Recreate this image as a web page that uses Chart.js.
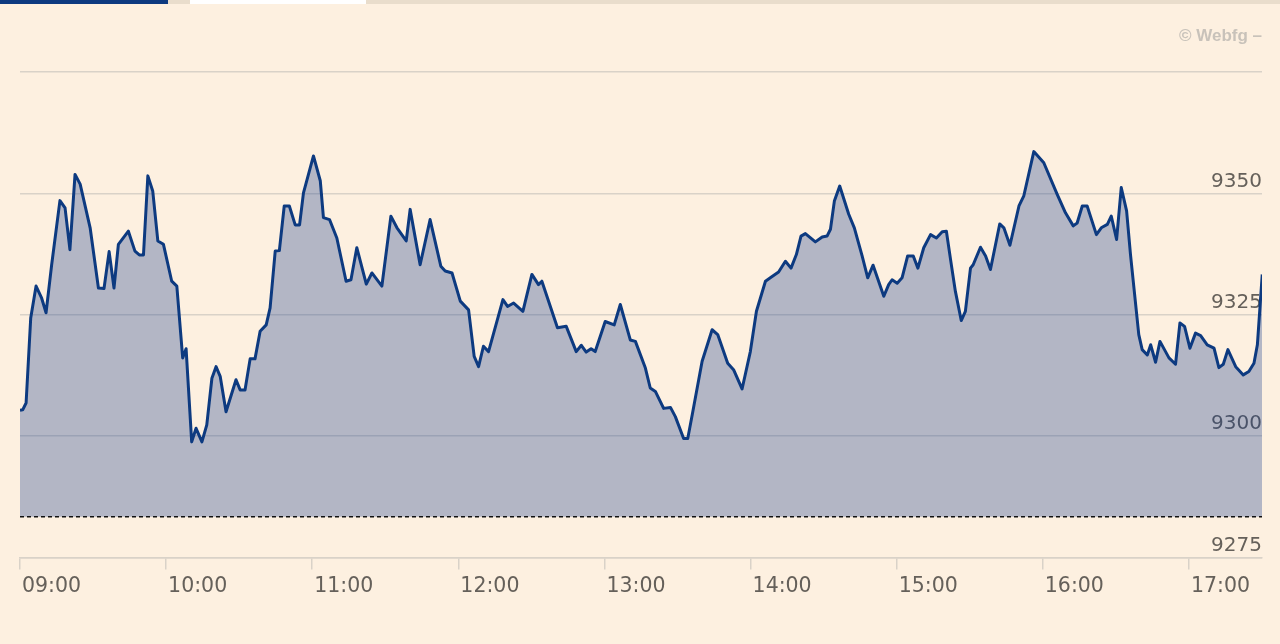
<!DOCTYPE html>
<html>
<head>
<meta charset="utf-8">
<script src="https://cdn.jsdelivr.net/npm/chart.js@4.4.1/dist/chart.umd.min.js"></script>
<style>
  html, body { margin: 0; padding: 0; background: #fdf0e0; }
  #wrap { position: relative; width: 1280px; height: 644px; overflow: hidden; }
  #topbar { position: absolute; left: 0; top: 0; width: 1280px; height: 4px; background: #e9ddcc; }
  #tab1 { position: absolute; left: 0; top: 0; width: 168px; height: 4px; background: #0d3a80; }
  #tab2 { position: absolute; left: 190px; top: 0; width: 176px; height: 4px; background: #ffffff; }
  #credit { position: absolute; right: 18px; top: 26px; font: bold 17px "Liberation Sans", Arial, sans-serif; color: #c8c2ba; }
  canvas { position: absolute; left: 0; top: 0; }
</style>
</head>
<body>
<div id="wrap">
  <div id="topbar"></div>
  <div id="tab1"></div>
  <div id="tab2"></div>
  <canvas id="chart" width="1280" height="644"></canvas>
  <div id="credit">© Webfg –</div>
</div>
<script>
// minutes after 09:00
const minutes = [
  0, 1.1, 2.5, 4.4, 6.6, 8.9, 10.7, 13.0, 16.4, 18.5, 20.5, 22.6, 24.7, 28.8, 32.2, 34.5, 36.6, 38.6, 40.4, 44.5,
  47.2, 49.0, 50.7, 52.5, 54.5, 56.6, 58.9, 62.3, 64.4, 66.8, 68.2, 70.5, 72.3, 74.7, 76.7, 78.8, 80.5, 82.2, 84.6, 88.7,
  90.4, 92.4, 94.5, 96.5, 98.6, 101.1, 102.7, 104.8, 106.5, 108.5, 110.6, 113.0, 114.8, 116.4, 120.5, 123.3, 124.6, 127.1, 130.1, 133.9,
  135.9, 138.3, 142.2, 144.5, 148.6, 152.3, 154.8, 158.6, 160.2, 164.3, 168.4, 172.8, 174.6, 177.4, 180.8, 184.2, 186.5, 188.3, 190.3, 192.4,
  198.3, 200.2, 202.7, 206.5, 210.2, 212.9, 214.3, 220.7, 224.3, 228.4, 230.5, 232.5, 234.5, 236.2, 240.3, 244.0, 246.5, 250.6, 252.7, 256.8,
  258.8, 260.9, 264.3, 267.1, 269.1, 272.5, 274.2, 276.0, 280.1, 284.2, 286.5, 290.6, 293.1, 296.5, 299.9, 302.4, 306.1, 308.1, 311.5, 314.3,
  316.6, 318.8, 320.7, 322.5, 326.6, 329.4, 331.4, 332.8, 334.4, 336.6, 340.3, 342.6, 345.8, 348.1, 350.3, 354.7, 356.7, 358.1, 360.2, 362.2,
  364.5, 366.8, 368.7, 371.1, 373.9, 376.3, 378.7, 380.4, 382.1, 384.1, 386.5, 388.2, 390.3, 391.4, 394.4, 396.5, 398.5, 402.3, 404.0, 406.5,
  410.2, 412.2, 416.3, 420.4, 425.9, 429.3, 432.5, 434.1, 436.2, 438.2, 442.0, 444.0, 446.5, 448.1, 450.3, 452.2, 454.4, 456.0, 459.4, 460.8,
  462.9, 464.3, 466.3, 468.1, 471.8, 474.5, 476.3, 478.2, 480.4, 482.7, 484.8, 487.5, 490.3, 492.3, 494.1, 496.0, 499.2, 502.3, 504.6, 506.7,
  508.1, 510.1
];
const prices = [
  9305.3, 9305.4, 9306.8, 9324.3, 9330.9, 9328.4, 9325.4, 9335.3, 9348.5, 9347.0, 9338.4, 9353.9, 9351.9, 9342.9, 9330.5, 9330.4, 9338.0, 9330.5, 9339.5, 9342.2,
  9338.1, 9337.3, 9337.3, 9353.6, 9350.5, 9340.2, 9339.5, 9331.9, 9330.9, 9316.1, 9318.0, 9298.8, 9301.6, 9298.8, 9302.3, 9311.9, 9314.3, 9312.3, 9305.0, 9311.6,
  9309.5, 9309.5, 9315.9, 9315.9, 9321.6, 9322.9, 9326.4, 9338.1, 9338.2, 9347.4, 9347.4, 9343.5, 9343.5, 9350.1, 9357.7, 9352.6, 9345.0, 9344.6, 9340.8, 9331.9,
  9332.2, 9338.8, 9331.3, 9333.6, 9330.9, 9345.3, 9342.9, 9340.2, 9346.7, 9335.3, 9344.6, 9335.0, 9334.0, 9333.6, 9327.8, 9326.0, 9316.4, 9314.3, 9318.5, 9317.4,
  9328.1, 9326.7, 9327.4, 9325.7, 9333.3, 9331.2, 9331.9, 9322.3, 9322.6, 9317.4, 9318.7, 9317.3, 9318.0, 9317.4, 9323.6, 9322.9, 9327.1, 9319.8, 9319.5, 9314.0,
  9309.9, 9309.2, 9305.7, 9305.9, 9304.0, 9299.5, 9299.5, 9304.3, 9315.4, 9321.9, 9320.9, 9315.0, 9313.6, 9309.7, 9317.4, 9325.7, 9331.9, 9332.6, 9333.8, 9336.0,
  9334.6, 9337.4, 9341.2, 9341.7, 9340.0, 9341.0, 9341.2, 9342.6, 9348.4, 9351.5, 9345.7, 9342.9, 9337.1, 9332.6, 9335.2, 9328.8, 9331.2, 9332.2, 9331.5, 9332.6,
  9337.1, 9337.1, 9334.6, 9338.8, 9341.5, 9340.8, 9342.1, 9342.2, 9336.4, 9329.8, 9323.8, 9325.7, 9334.6, 9335.3, 9338.9, 9337.1, 9334.3, 9343.7, 9342.9, 9339.3,
  9347.4, 9349.5, 9358.6, 9356.3, 9349.8, 9346.0, 9343.3, 9343.9, 9347.4, 9347.4, 9341.5, 9342.9, 9343.6, 9345.3, 9340.5, 9351.2, 9346.4, 9337.4, 9320.9, 9317.8,
  9316.7, 9318.8, 9315.2, 9319.5, 9316.1, 9314.8, 9323.3, 9322.6, 9318.1, 9321.2, 9320.7, 9318.8, 9318.1, 9314.1, 9314.8, 9317.8, 9314.3, 9312.6, 9313.3, 9315.0,
  9318.8, 9333.3
];
const prevClose = 9283.4;
const xTickLabels = ['09:00', '10:00', '11:00', '12:00', '13:00', '14:00', '15:00', '16:00', '17:00'];
const yTickValues = [9275, 9300, 9325, 9350];

const gridColor = '#d9d2c8';
const textColor = '#65605a';

const lineData = minutes.map((m, i) => ({ x: m, y: prices[i] }));
const closeData = [{ x: 0, y: prevClose }, { x: 510, y: prevClose }];

new Chart(document.getElementById('chart'), {
  type: 'line',
  data: {
    datasets: [
      {
        data: closeData,
        borderColor: '#111111',
        borderWidth: 1.5,
        borderDash: [4, 3],
        pointRadius: 0,
        fill: false
      },
      {
        data: lineData,
        borderColor: '#0d3a80',
        borderWidth: 3,
        borderJoinStyle: 'round',
        pointRadius: 0,
        tension: 0,
        backgroundColor: 'rgba(15, 55, 140, 0.31)',
        fill: { value: prevClose }
      }
    ]
  },
  options: {
    responsive: false,
    animation: false,
    events: [],
    layout: { padding: { left: 20, right: 18, top: 72, bottom: 40 } },
    plugins: { legend: { display: false }, tooltip: { enabled: false } },
    scales: {
      x: {
        type: 'linear',
        min: 0,
        max: 510,
        afterBuildTicks: function(scale) {
          scale.ticks = scale.ticks.filter(t => t.value % 60 === 0);
        },
        ticks: {
          stepSize: 60,
          autoSkip: false,
          maxRotation: 0,
          align: 'start',
          labelOffset: 2,
          padding: 5,
          color: textColor,
          font: { family: 'DejaVu Sans', size: 20.5 },
          callback: function(value) { return xTickLabels[value / 60]; }
        },
        grid: { drawOnChartArea: false, drawTicks: true, tickLength: 12, color: gridColor, lineWidth: 1.5 },
        border: { display: true, color: gridColor, width: 1.5 }
      },
      y: {
        position: 'right',
        min: 9275,
        max: 9375,
        ticks: {
          stepSize: 25,
          mirror: true,
          padding: 0,
          labelOffset: -12,
          color: textColor,
          font: { family: 'DejaVu Sans', size: 20 },
          callback: function(value) { return yTickValues.includes(value) ? String(value) : ''; }
        },
        grid: { drawTicks: false, color: gridColor, lineWidth: 1.5 },
        border: { display: false }
      }
    }
  }
});
</script>
</body>
</html>
